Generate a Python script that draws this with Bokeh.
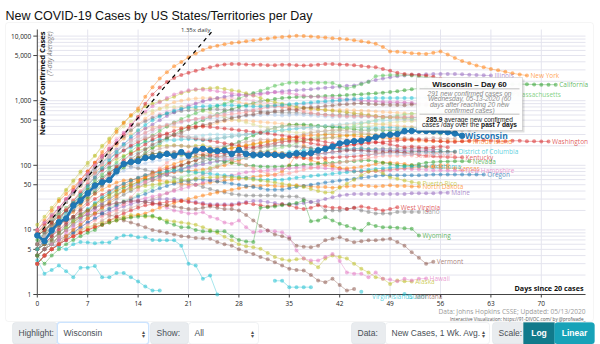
import math
from bokeh.plotting import figure
from bokeh.models import Range1d, Label, BoxAnnotation
from bokeh.embed import file_html
from bokeh.resources import INLINE
from bokeh.core.properties import value

nan = float("nan")

# ---------------- data (7-day average new cases, by days since 20 cases) ----------------
x_ticks = [0, 7, 14, 21, 28, 35, 42, 49, 56, 63, 70]
y_ticks = [1, 5, 10, 50, 100, 500, 1000, 5000, 10000]
y_minor = [2, 3, 4, 6, 7, 8, 9]

growth_rate = 1.35
growth_start = 8.1

wisconsin = [8.2, 6.7, 9.8, 13.1, 15, 23.8, 28.5, 37, 48.5, 54.5,
             59, 81, 105, 112, 116, 130, 133, 141, 150, 141,
             160, 141, 170, 180, 170, 166, 170, 150, 173, 150,
             145, 145, 147, 145, 141, 145, 153, 150, 155, 170,
             180, 195, 218, 228, 236, 240, 255, 272, 290, 298,
             305, 337, 340, 345, 340, 337, 337, 325, 310, 286]

new_york = [10, 14, 20, 28, 36, 46, 60, 80, 110, 160,
            230, 330, 450, 600, 760, 1150, 1620, 2200, 2760, 3400,
            3970, 4700, 5370, 6100, 6700, 7100, 7500, 7800, 8000, 8300,
            8600, 8900, 9200, 9500, 9700, 9900, 10100, 10000, 9850, 9650,
            9500, 9300, 9100, 8900, 8600, 8300, 8000, 7600, 6800, 5800,
            5700, 5600, 5450, 5350, 5300, 5500, 5800, 5200, 4600, 4100,
            3800, 3500, 3300, 3100, 2950, 2800, 2650, 2550, 2450]
new_jersey = [9, 12, 16, 22, 30, 42, 60, 80, 110, 140,
              180, 220, 300, 420, 560, 900, 1250, 1600, 1950, 2250,
              2500, 2700, 2900, 3100, 3300, 3500, 3650, 3700, 3700, 3650,
              3600, 3600, 3550, 3550, 3600, 3600, 3550, 3500, 3550, 3600,
              3700, 3700, 3650, 3600, 3550, 3450, 3350, 3300, 3100, 2900,
              2700, 2600, 2550, 2500, 2450, 2350, 2200, 2000, 1800, 1650,
              1500, 1440, 1400]
illinois = [10, 13, 17, 22, 29, 38, 50, 65, 85, 110,
            140, 175, 215, 260, 310, 370, 430, 500, 580, 660,
            740, 820, 900, 980, 1050, 1100, 1150, 1200, 1220, 1250,
            1280, 1300, 1330, 1360, 1400, 1430, 1450, 1480, 1500, 1550,
            1580, 1620, 1650, 1700, 1720, 1850, 1980, 2100, 2200, 2300,
            2380, 2450, 2500, 2530, 2560, 2580, 2600, 2600, 2580, 2560,
            2530, 2500, 2470, 2450]
california = [7, 9, 11, 14, 17, 21, 26, 32, 40, 50,
              62, 76, 92, 110, 130, 155, 185, 220, 260, 300,
              350, 400, 450, 500, 560, 620, 680, 740, 800, 860,
              920, 980, 1020, 1060, 1100, 1120, 1140, 1150, 1160, 1170,
              1180, 1190, 1200, 1220, 1240, 1260, 1280, 1300, 1330, 1360,
              1400, 1450, 1500, 1550, 1600, 1650, 1700, 1750, 1800, 1850,
              1900, 1950, 1950, 1900, 1850, 1800, 1800, 1800, 1800, 1780,
              1770, 1770, 1770]
massachusetts = [8, 10, 13, 17, 22, 28, 36, 46, 58, 72,
                 90, 110, 135, 165, 200, 240, 290, 340, 400, 460,
                 520, 580, 640, 700, 760, 830, 900, 980, 1080, 1200,
                 1320, 1430, 1550, 1700, 1800, 1900, 1900, 1900, 1900, 1900,
                 1900, 1880, 1700, 1550, 1650, 1800, 1950, 2400, 2450, 2500,
                 2500, 2500, 2450, 2400, 2300, 2200, 2100, 2000, 1900, 1800,
                 1700, 1600, 1500, 1420, 1350, 1300, 1250]
pennsylvania = [10, 13, 17, 22, 30, 40, 55, 75, 100, 135,
                180, 240, 320, 420, 540, 680, 820, 950, 1100, 1250,
                1350, 1450, 1500, 1480, 1450, 1400, 1350, 1300, 1250, 1200,
                1200, 1250, 1300, 1350, 1320, 1300, 1250, 1200, 1150, 1150,
                1100, 1100, 1080, 1050, 1050, 1000, 1000, 980, 950, 950,
                950, 940, 920, 900, 900, 890, 880, 870, 860, 850, 850]
michigan = [12, 16, 22, 30, 42, 58, 80, 110, 141, 200,
            260, 360, 460, 580, 700, 820, 900, 970, 1050, 1150,
            1300, 1400, 1480, 1530, 1560, 1580, 1520, 1450, 1400, 1300,
            1200, 1100, 1000, 950, 900, 850, 800, 780, 760, 740,
            720, 700, 680, 660, 640, 620, 600, 580, 560, 550,
            540, 530, 520, 510, 500, 500, 500, 510, 520, 520, 520, 520]
florida = [9, 12, 15, 20, 27, 36, 48, 65, 85, 110,
           150, 200, 260, 340, 430, 530, 640, 750, 850, 950,
           1000, 1050, 1080, 1100, 1100, 1080, 1050, 1000, 950, 900,
           880, 860, 850, 830, 800, 780, 760, 750, 740, 730,
           720, 720, 720, 720, 710, 700, 690, 680, 670, 660,
           650, 640, 630, 620, 610, 600, 600, 600, 610, 620, 630, 640, 650]
texas = [5, 7, 10, 14, 19, 26, 35, 48, 65, 90,
         120, 160, 210, 280, 350, 420, 500, 570, 640, 700,
         750, 780, 800, 820, 830, 840, 850, 850, 840, 830,
         820, 820, 830, 840, 860, 880, 900, 920, 940, 960,
         980, 1000, 1020, 1040, 1060, 1080, 1100, 1100, 1100, 1100,
         1100, 1100, 1100, 1100, 1120, 1140, 1150, 1150, 1150, 1150, 1150, 1150, 1150]
georgia = [6, 9, 13, 19, 27, 38, 52, 70, 95, 130,
           170, 220, 280, 350, 420, 480, 540, 590, 630, 660,
           690, 710, 720, 730, 740, 740, 730, 720, 710, 700,
           690, 680, 670, 660, 650, 650, 650, 640, 630, 620,
           610, 600, 600, 600, 590, 580, 580, 570, 560, 560,
           560, 550, 550, 550, 550, 560, 570, 580, 590, 600, 600, 600]
maryland = [6, 8, 11, 15, 20, 26, 34, 45, 60, 80,
            105, 135, 170, 210, 250, 290, 330, 370, 400, 430,
            460, 490, 520, 550, 580, 610, 640, 670, 700, 720,
            740, 760, 780, 800, 820, 840, 860, 880, 900, 920,
            940, 960, 980, 1000, 1000, 990, 980, 970, 960, 950,
            940, 930, 920, 910, 900, 890, 880, 870, 860, 850]
virginia = [4, 5, 7, 9, 12, 16, 21, 28, 37, 48,
            62, 80, 100, 125, 150, 175, 210, 235, 270, 300,
            320, 360, 380, 420, 440, 480, 500, 540, 560, 600,
            610, 650, 640, 690, 700, 730, 720, 770, 790, 800,
            830, 840, 870, 880, 900, 910, 890, 880, 870, 860,
            860, 850, 870, 860, 850, 860, 870, 860, 850, 860]
connecticut = [5, 8, 12, 18, 27, 40, 58, 80, 110, 150,
               200, 260, 320, 380, 440, 500, 560, 620, 680, 740,
               800, 860, 920, 980, 1030, 1080, 1100, 1100, 1080, 1050,
               1000, 960, 920, 880, 850, 820, 800, 780, 760, 740,
               720, 700, 680, 660, 640, 620, 600, 580, 560, 540,
               520, 510, 500, 490, 480, 470, 460, 450]
louisiana = [8, 12, 18, 28, 40, 55, 75, 100, 140, 190,
             250, 320, 400, 480, 560, 640, 700, 750, 780, 800,
             800, 780, 750, 700, 650, 600, 560, 520, 490, 460,
             430, 400, 380, 360, 340, 330, 320, 320, 320, 330,
             340, 350, 360, 370, 380, 390, 400, 420, 440, 460,
             470, 480, 480, 480, 470, 460, 460, 460, 460, 460, 460]
ohio = [6, 8, 11, 15, 21, 29, 40, 55, 75, 100,
        130, 160, 200, 240, 280, 320, 360, 390, 420, 450,
        480, 500, 520, 540, 560, 580, 600, 620, 640, 660,
        700, 750, 800, 820, 800, 760, 720, 680, 650, 620,
        600, 590, 580, 570, 570, 575, 570, 565, 560, 560,
        555, 560, 565, 560, 555, 560, 560, 555, 560, 560]
indiana = [5, 7, 10, 14, 20, 28, 38, 52, 70, 95,
           125, 160, 200, 240, 280, 320, 360, 400, 430, 460,
           480, 500, 510, 520, 530, 540, 550, 560, 570, 580,
           590, 600, 610, 600, 590, 600, 610, 600, 590, 580,
           570, 560, 565, 560, 555, 560, 565, 560, 555, 560,
           560, 555, 550, 540, 530, 520, 510, 500]
minnesota = [4, 5, 6, 8, 10, 12, 14, 16, 18, 20,
             22, 25, 28, 31, 35, 40, 45, 50, 55, 60,
             65, 70, 75, 80, 90, 100, 110, 120, 130, 140,
             150, 160, 170, 180, 190, 200, 220, 240, 260, 280,
             300, 320, 350, 380, 410, 440, 470, 500, 530, 560,
             590, 610, 630, 640, 650, 650, 660, 660, 660]
iowa = [4, 5, 6, 8, 10, 13, 16, 20, 25, 30,
        35, 40, 45, 50, 55, 60, 65, 70, 80, 90,
        100, 110, 120, 135, 150, 170, 190, 210, 230, 260,
        290, 320, 350, 380, 400, 420, 430, 430, 420, 410,
        400, 390, 380, 370, 360, 350, 350, 355, 350, 345,
        350, 350, 345, 340, 330, 320, 310]
nebraska = [3, 4, 5, 6, 7, 8, 9, 10, 12, 14,
            16, 18, 20, 22, 24, 27, 30, 33, 37, 42,
            48, 55, 63, 72, 82, 95, 110, 125, 140, 155,
            170, 185, 200, 220, 240, 260, 280, 300, 320, 330,
            340, 350, 350, 340, 330, 320, 310, 300, 290, 280,
            270, 260, 250]
tennessee = [8, 11, 15, 20, 27, 36, 48, 64, 85, 110,
             140, 170, 200, 230, 250, 270, 280, 290, 300, 300,
             290, 280, 270, 260, 260, 260, 270, 280, 290, 300,
             320, 340, 360, 380, 400, 400, 400, 380, 360, 340,
             330, 320, 320, 320, 330, 340, 350, 360, 360, 360,
             360, 350, 340, 330, 320, 320, 320, 330, 340, 350, 350]
north_carolina = [5, 7, 9, 12, 16, 21, 28, 37, 48, 62,
                  80, 100, 120, 140, 160, 180, 200, 220, 240, 250,
                  260, 270, 280, 290, 300, 300, 295, 300, 305, 300,
                  310, 320, 330, 340, 350, 360, 370, 380, 390, 400,
                  410, 420, 430, 440, 450, 460, 470, 480, 490, 500,
                  510, 520, 515, 520, 525, 520, 515, 520]
arizona = [6, 9, 13, 19, 27, 38, 52, 70, 90, 110,
           130, 150, 170, 190, 210, 230, 240, 250, 250, 245,
           250, 255, 250, 245, 250, 260, 270, 280, 290, 300,
           310, 320, 330, 340, 350, 360, 370, 380, 390, 400,
           400, 400, 390, 380, 380, 385, 380, 375, 380, 385,
           380, 375, 380, 385, 380, 380]
colorado = [6, 9, 13, 19, 27, 38, 52, 70, 95, 130,
            170, 210, 260, 300, 340, 370, 390, 400, 400, 390,
            380, 380, 390, 400, 420, 450, 480, 500, 500, 490,
            480, 470, 460, 450, 440, 430, 420, 410, 400, 400,
            400, 410, 420, 430, 440, 450, 450, 440, 430, 420,
            410, 400, 390, 380, 370, 360, 360, 365, 360, 355, 360, 360]
alabama = [8, 11, 15, 20, 27, 36, 48, 62, 78, 95,
           110, 125, 140, 155, 170, 180, 190, 200, 200, 205,
           200, 195, 200, 205, 190, 180, 180, 185, 190, 200,
           210, 220, 230, 240, 250, 255, 250, 245, 250, 255,
           260, 270, 280, 290, 300, 305, 300, 295, 300, 310,
           320, 330, 335, 330, 325, 330, 335, 330]
mississippi = [6, 8, 11, 15, 20, 26, 33, 42, 52, 64,
               78, 92, 106, 120, 135, 150, 165, 180, 190, 200,
               200, 195, 190, 185, 185, 190, 200, 210, 220, 230,
               240, 250, 250, 250, 240, 230, 230, 240, 250, 260,
               270, 270, 260, 250, 250, 260, 270, 280, 280, 270,
               260, 265, 260, 255, 260, 265, 260, 255, 260]
missouri = [5, 7, 10, 14, 20, 28, 38, 50, 65, 85,
            110, 140, 170, 200, 230, 260, 280, 300, 300, 290,
            280, 270, 260, 250, 240, 230, 220, 210, 200, 190,
            190, 200, 210, 220, 230, 240, 240, 230, 220, 210,
            200, 190, 190, 200, 210, 220, 230, 230, 220, 210,
            200, 190, 195, 190, 185, 190, 195, 190]
south_carolina = [5, 6, 8, 11, 15, 20, 26, 34, 44, 56,
                  70, 85, 100, 115, 130, 140, 150, 155, 160, 160,
                  160, 155, 150, 145, 140, 135, 135, 140, 145, 150,
                  155, 160, 160, 155, 150, 145, 140, 140, 145, 150,
                  155, 160, 165, 170, 170, 170, 165, 160, 160, 162,
                  160, 158, 160, 162, 160, 158, 160, 162, 160]
utah = [6, 8, 10, 13, 17, 22, 28, 35, 43, 52,
        62, 72, 82, 92, 100, 108, 115, 120, 122, 124,
        125, 126, 128, 130, 128, 126, 130, 132, 130, 128,
        135, 140, 145, 150, 148, 146, 150, 152, 150, 148,
        150, 155, 150, 145, 150, 155, 150, 148, 150, 152,
        150, 148, 150, 152, 155, 150, 148, 150]
delaware = [3, 4, 5, 6, 8, 10, 12, 15, 18, 22,
            26, 30, 35, 40, 46, 52, 58, 65, 72, 80,
            88, 96, 105, 115, 125, 135, 145, 155, 165, 175,
            185, 190, 195, 200, 205, 200, 195, 190, 185, 180,
            182, 185, 180, 175, 180, 185, 180, 178, 182, 180,
            178, 180, 182, 180, 178, 176, 175]
new_mexico = [4, 5, 6, 8, 10, 12, 15, 18, 22, 26,
              30, 35, 40, 45, 50, 56, 62, 68, 74, 80,
              86, 92, 98, 104, 110, 116, 122, 128, 134, 140,
              146, 150, 152, 150, 148, 150, 152, 150, 148, 150,
              155, 160, 165, 170, 172, 170, 168, 170, 172, 170,
              168, 170, 172, 170, 168, 170]
arkansas = [5, 7, 9, 12, 15, 19, 24, 30, 36, 42,
            48, 54, 58, 60, 62, 62, 60, 58, 56, 54,
            52, 50, 50, 52, 54, 56, 58, 60, 62, 64,
            66, 68, 70, 72, 80, 100, 150, 200, 180, 150,
            120, 100, 90, 85, 80, 80, 80, 82, 84, 86,
            88, 90, 92, 94, 96, 98, 100, 100]
washington = [8, 10, 13, 16, 20, 25, 30, 38, 48, 60,
              75, 95, 120, 150, 180, 210, 250, 280, 310, 340,
              370, 390, 400, 400, 390, 380, 370, 360, 350, 340,
              330, 320, 310, 300, 290, 280, 270, 260, 250, 240,
              230, 220, 215, 210, 210, 215, 220, 225, 230, 235,
              240, 245, 250, 250, 245, 240, 235, 230, 230, 235,
              240, 240, 245, 240, 235, 235, 240, 240, 235, 235,
              234, 234]
rhode_island = [3, 4, 5, 6, 8, 10, 12, 15, 18, 22,
                27, 33, 40, 48, 56, 65, 75, 85, 95, 105,
                115, 125, 135, 145, 155, 165, 175, 185, 195, 205,
                215, 225, 235, 245, 255, 265, 275, 285, 290, 295,
                300, 300, 295, 290, 285, 280, 275, 270, 265, 260,
                255, 250, 245, 240, 238, 236, 236, 236, 236, 236, 236]
district_of_columbia = [4, 5, 6, 8, 10, 12, 15, 18, 22, 26,
                        30, 35, 40, 46, 52, 58, 64, 70, 76, 82,
                        88, 94, 100, 105, 110, 115, 118, 120, 125, 130,
                        135, 140, 145, 150, 155, 160, 165, 170, 175, 180,
                        180, 182, 180, 178, 180, 178, 176, 174, 172, 170,
                        168, 166, 165, 164, 164, 163, 163, 163, 163]
south_dakota = [3, 4, 5, 6, 7, 8, 10, 12, 14, 16,
                18, 20, 25, 32, 42, 55, 70, 90, 110, 130,
                150, 160, 165, 160, 150, 140, 130, 120, 110, 100,
                90, 80, 75, 70, 72, 75, 80, 85, 90, 95,
                100, 105, 110, 115, 120, 125, 130, 135, 140, 140,
                140, 142, 142]
kentucky = [5, 6, 8, 10, 13, 16, 20, 25, 30, 35,
            40, 46, 52, 58, 64, 70, 76, 82, 88, 94,
            100, 110, 120, 130, 140, 150, 155, 160, 160, 155,
            150, 145, 140, 138, 136, 134, 132, 130, 130, 130,
            130, 132, 134, 136, 138, 140, 145, 150, 155, 160,
            160, 155, 150, 145, 140, 138, 136, 134, 133, 133]
nevada = [6, 8, 11, 15, 20, 26, 33, 42, 52, 64,
          78, 92, 105, 118, 130, 140, 150, 155, 155, 150,
          145, 140, 135, 130, 125, 120, 115, 110, 105, 100,
          98, 96, 95, 95, 96, 98, 100, 102, 104, 106,
          108, 110, 112, 114, 116, 118, 120, 115, 110, 105,
          100, 98, 100, 105, 110, 112, 114, 115, 116, 116, 116]
oklahoma = [5, 6, 7, 9, 11, 14, 17, 21, 26, 32,
            38, 45, 52, 58, 64, 70, 74, 78, 80, 82,
            82, 80, 78, 76, 74, 72, 70, 68, 66, 64,
            62, 60, 60, 60, 60, 62, 64, 66, 68, 70,
            72, 74, 76, 78, 80, 82, 85, 88, 90, 92,
            94, 95, 96, 97, 97]
kansas = [4, 5, 6, 8, 10, 13, 16, 20, 25, 30,
          36, 42, 48, 54, 60, 66, 70, 74, 76, 78,
          80, 82, 84, 86, 90, 95, 100, 110, 120, 130,
          140, 150, 155, 160, 155, 150, 140, 130, 120, 110,
          100, 95, 90, 90, 92, 95, 100, 105, 110, 110,
          108, 105, 100, 98, 95, 93, 92, 91, 90]
new_hampshire = [3, 4, 5, 7, 9, 11, 13, 15, 17, 19,
                 21, 23, 25, 27, 29, 31, 33, 35, 37, 40,
                 43, 46, 50, 54, 58, 62, 66, 70, 74, 78,
                 80, 82, 84, 86, 88, 90, 92, 95, 93, 92,
                 90, 88, 86, 84, 82, 80, 80, 81, 82, 84,
                 86, 88, 87, 86, 85, 84, 84, 83, 83, 83]
oregon = [3, 4, 5, 6, 7, 9, 11, 13, 15, 18,
          21, 24, 27, 30, 33, 36, 40, 44, 48, 52,
          56, 58, 60, 60, 58, 56, 54, 52, 50, 48,
          46, 44, 42, 42, 42, 44, 46, 48, 50, 52,
          54, 56, 58, 60, 62, 64, 66, 68, 70, 70,
          70, 70, 70, 70, 71, 72, 72, 72, 72, 72,
          72, 72, 72]
puerto_rico = [5, 6, 7, 9, 11, 14, 17, 20, 24, 28,
               32, 36, 40, 43, 46, 48, 50, 52, 54, 56,
               58, 60, 62, 64, 65, 66, 66, 65, 64, 62,
               60, 58, 56, 54, 52, 50, 48, 46, 43, 40,
               38, 38, 45, 52, 60, 70, 80, 83, 75, 65,
               62, 58, 55, 53]
north_dakota = [3, 4, 5, 6, 7, 8, 9, 10, 11, 12,
                13, 14, 15, 16, 17, 18, 20, 22, 24, 26,
                28, 30, 32, 34, 36, 38, 40, 42, 44, 46,
                48, 48, 49, 48, 47, 48, 49, 48, 47, 46,
                46, 45, 46, 47, 48, 49, 48, 47, 48, 49,
                48, 48, 47, 47]
maine = [4, 5, 6, 7, 8, 9, 11, 13, 15, 17,
         19, 21, 23, 25, 27, 28, 29, 30, 30, 30,
         29, 28, 27, 26, 25, 25, 25, 25, 26, 27,
         28, 28, 27, 26, 25, 25, 25, 26, 27, 28,
         30, 32, 34, 35, 36, 36, 36, 36, 36, 36,
         36, 36, 37, 37, 37, 37, 37.5, 37.5]
west_virginia = [3, 4, 5, 6, 7, 8, 9, 10, 11, 12,
                 14, 16, 18, 20, 22, 24, 25, 26, 27, 28,
                 28, 27, 26, 25, 24, 24, 24, 24, 25, 26,
                 25, 24, 23, 24, 25, 24, 22, 21, 22, 24,
                 23, 22, 22, 21, 22, 23, 22, 21, 20, 21, 22.4]
idaho = [6, 9, 14, 20, 28, 38, 50, 62, 75, 85,
         95, 100, 100, 95, 90, 85, 80, 75, 70, 65,
         60, 55, 50, 46, 43, 40, 38, 36, 35, 34,
         34, 34, 34, 34, 33, 33, 33, 30, 27, 25,
         20, 20, 20, 21, 22, 20, 19, 18, 18, 18,
         19, 19, 19, 19]
wyoming = [4, 3, 4, 5, 6, 7, 8, 9, 10, 12,
           13, 14, 15, 15.5, 16, 16.5, 16.5, 15, 13, 12,
           11, 11, 10, 9.5, 9.5, 9.5, 9.5, 8, 7, 6.6,
           6.5, 22, 22.5, 23, 24, 25, 26, 28.5, 13.6, 14,
           15.7, 14, 12.4, 11.5, 10.5, 9.8, 12.4, 11.5, 11, 11,
           10.8, 10.6, 10.4, 8.2]
vermont = [6, 7, 9, 12, 14, 16, 18, 20, 22, 24,
           25, 26, 27, 28, 28, 27, 26, 25, 24, 23,
           22, 21, 21, 22, 23, 22, 21, 21, 20, 17,
           14, 11.5, 9.8, 8.5, 8, 7.3, 5.7, 5.5, 5.4, 5.7,
           6.9, 7.3, 7.7, 7, 6.45, 6.7, 6.9, 6.9, 7.1, 7.3,
           6.5, 5.7, 4.5, 3.7, 3.0, 3.2]
hawaii = [5, 6, 8, 10, 12, 14, 16, 18, 20, 22,
          24, 26, 27, 28, 28, 27, 26, 24, 22, 20,
          19, 18, 18, 18.8, 16, 14.9, 13, 12.4, 14, 11,
          9.2, 9.5, 9.8, 9.5, 9.2, 7.7, 4.8, 3.6, 3.35, 3.35,
          3.8, 4.25, 3.3, 2.2, 2.1, 2.1, 1.85, 2.2, 1.75, 1.7,
          1.6, 1.75, 1.65, 1.75, 1.77]
alaska = [4, 5, 6, 7, 8, 9, 10, 11, 12, 13,
          14, 15, 16, 17, 17, 16, 16, 15, 14, 13.5,
          13, 12.6, 12, 11, 10, 9, 7.8, 6.9, 6, 5.6,
          5.4, 5.1, 4.4, 3.8, 3.5, 3.35, 3.5, 3.6, 3.1, 2.65,
          3.6, 4.0, 3.8, 3.6, 3.0, 2.5, 2.2, 1.85, 1.75, 1.46,
          1.65, 1.6, 1.59]
montana = [8, 10, 12, 13, 14, 15, 16, 17, 18, 18,
           17, 16, 14, 13, 12, 11, 10, 9.5, 9, 8.5,
           8, 7.8, 7.5, 7.4, 7.3, 6.5, 6, 5.7, 5, 4.6,
           4.25, 3.8, 3.5, 3.16, 2.8, 2.5, 2.4, 2.35, 2, 1.65,
           1.55, 1.75, 1.4, 1.15, 1.22, nan, nan, nan, nan, nan,
           nan, nan, nan]
virgin_islands = [3.4, 2.1, 2.4, 2.8, 2.3, 1.85, 2.6, 2.6, 2.75, 1.85,
                  1.85, 2.15, 2.15, 1.85, 1.59, 1.33, 1.15, 1.15, nan, nan,
                  nan, nan, nan, nan, nan, nan, nan, nan, nan, nan,
                  nan, nan, nan, 1.63, 1.63, 1.3, 1.3, 1.3, 1.3, nan,
                  nan, nan, nan, nan, nan, nan, nan]
guam = [5, 6, 6, 5.5, 5, 6, 6.5, 6.4, 6.2, 6.4,
        6.4, 7.5, 8.2, 8.2, 7.7, 7.7, 7, 6.9, 6.9, 6.9,
        5.7, 3, 2.8, 1.75, 1.97, 1.0, nan, nan, nan, nan,
        nan, nan, nan, nan, nan, nan, nan, nan, nan, nan,
        nan, nan, nan, nan, nan, 1.1, nan, nan, nan, nan,
        nan, 1.02]

# (name, values, color, show label, label value override)
series = [
    ("Alabama", alabama, "#bcbd22", False, None),
    ("Alaska", alaska, "#bcbd22", True, None),
    ("Arizona", arizona, "#17becf", False, None),
    ("Arkansas", arkansas, "#ff7f0e", False, None),
    ("California", california, "#2ca02c", True, None),
    ("Colorado", colorado, "#ffbb78", False, None),
    ("Connecticut", connecticut, "#f7b6d2", False, None),
    ("Delaware", delaware, "#7f7f7f", False, None),
    ("District of Columbia", district_of_columbia, "#17becf", True, None),
    ("Florida", florida, "#ffbb78", False, None),
    ("Georgia", georgia, "#7f7f7f", False, None),
    ("Guam", guam, "#17becf", True, 0.93),
    ("Hawaii", hawaii, "#e377c2", True, None),
    ("Idaho", idaho, "#7f7f7f", True, None),
    ("Illinois", illinois, "#9467bd", True, None),
    ("Indiana", indiana, "#aec7e8", False, None),
    ("Iowa", iowa, "#2ca02c", False, None),
    ("Kansas", kansas, "#ff7f0e", True, None),
    ("Kentucky", kentucky, "#d62728", True, None),
    ("Louisiana", louisiana, "#dbdb8d", False, None),
    ("Maine", maine, "#9467bd", True, None),
    ("Maryland", maryland, "#c5b0d5", False, None),
    ("Massachusetts", massachusetts, "#55c255", True, None),
    ("Michigan", michigan, "#bcbd22", False, None),
    ("Minnesota", minnesota, "#98df8a", False, None),
    ("Mississippi", mississippi, "#c49c94", False, None),
    ("Missouri", missouri, "#d62728", False, None),
    ("Montana", montana, "#8c564b", True, 0.93),
    ("Nebraska", nebraska, "#c49c94", False, None),
    ("Nevada", nevada, "#2ca02c", True, None),
    ("New Hampshire", new_hampshire, "#e377c2", True, None),
    ("New Jersey", new_jersey, "#d62728", True, None),
    ("New Mexico", new_mexico, "#e377c2", False, None),
    ("New York", new_york, "#ff7f0e", True, None),
    ("North Carolina", north_carolina, "#9edae5", False, None),
    ("North Dakota", north_dakota, "#ff7f0e", True, None),
    ("Ohio", ohio, "#ff9896", False, None),
    ("Oklahoma", oklahoma, "#17becf", True, None),
    ("Oregon", oregon, "#1f77b4", True, None),
    ("Pennsylvania", pennsylvania, "#e377c2", False, None),
    ("Puerto Rico", puerto_rico, "#bcbd22", True, None),
    ("Rhode Island", rhode_island, "#ff7f0e", True, None),
    ("South Carolina", south_carolina, "#8c564b", False, None),
    ("South Dakota", south_dakota, "#ff9896", True, None),
    ("Tennessee", tennessee, "#c7c7c7", False, None),
    ("Texas", texas, "#17becf", False, None),
    ("Utah", utah, "#aec7e8", False, None),
    ("Vermont", vermont, "#8c564b", True, None),
    ("Virgin Islands", virgin_islands, "#17becf", True, 0.93),
    ("Virginia", virginia, "#8c564b", False, None),
    ("Washington", washington, "#d62728", True, None),
    ("West Virginia", west_virginia, "#d62728", True, None),
    ("Wyoming", wyoming, "#2ca02c", True, None),
]

# ---------------- layout geometry (pixels) ----------------
W, H = 600, 344
DAY0_PX, PX_PER_DAY = 36.8, 7.2
ONE_PX, PX_PER_DECADE = 294.0, 64.6
PLOT_RIGHT_PX, PLOT_TOP_PX = 585.0, 29.0

x_lo = -DAY0_PX / PX_PER_DAY
x_hi = (W - DAY0_PX) / PX_PER_DAY
y_lo = 10 ** (-(H - ONE_PX) / PX_PER_DECADE)
y_hi = 10 ** (ONE_PX / PX_PER_DECADE)
plot_right = (PLOT_RIGHT_PX - DAY0_PX) / PX_PER_DAY
plot_top = 10 ** ((ONE_PX - PLOT_TOP_PX) / PX_PER_DECADE)
tick_day = 4.0 / PX_PER_DAY
tick_dec = 10 ** (-3.0 / PX_PER_DECADE)

FONT = "Open Sans"
SANS = "Liberation Sans"

p = figure(width=W, height=H, x_range=Range1d(x_lo, x_hi), y_range=Range1d(y_lo, y_hi),
           y_axis_type="log", x_axis_location=None, y_axis_location=None,
           output_backend="svg", toolbar_location=None,
           min_border_left=0, min_border_right=0, min_border_top=0, min_border_bottom=0)
p.outline_line_color = None
p.grid.visible = False
p.background_fill_color = "white"
p.border_fill_color = "white"

# grid
GRID = "#e4e4ee"
h_lines = [m * d for d in (1, 10, 100, 1000) for m in [1] + y_minor + [5]] + [10000]
h_lines = sorted(set(v for v in h_lines if v < plot_top))
p.segment(x0=[0] * len(h_lines), y0=h_lines, x1=[plot_right] * len(h_lines), y1=h_lines,
          line_color=GRID, line_width=1)
p.segment(x0=x_ticks[1:], y0=[1] * (len(x_ticks) - 1), x1=x_ticks[1:], y1=[plot_top] * (len(x_ticks) - 1),
          line_color=GRID, line_width=1)

# axes
AX = "#444444"
p.segment(x0=[0], y0=[1], x1=[0], y1=[plot_top], line_color=AX, line_width=1)
p.segment(x0=[0], y0=[1], x1=[plot_right], y1=[1], line_color=AX, line_width=1)
p.segment(x0=[-tick_day] * len(y_ticks), y0=y_ticks, x1=[0] * len(y_ticks), y1=y_ticks,
          line_color=AX, line_width=1)
p.segment(x0=x_ticks, y0=[1] * len(x_ticks), x1=x_ticks, y1=[tick_dec] * len(x_ticks),
          line_color=AX, line_width=1)
p.text(x=[0] * len(y_ticks), y=y_ticks, text=[f"{v:,}" for v in y_ticks], x_offset=-6,
       text_align="right", text_baseline="middle", text_font=value(FONT),
       text_font_size="6.5px", text_color="#222222")
p.text(x=x_ticks, y=[1] * len(x_ticks), text=[str(v) for v in x_ticks], y_offset=8.5,
       text_align="center", text_baseline="middle", text_font=value(FONT),
       text_font_size="6.5px", text_color="#222222")


def clabel(x, y, text, size, color="#222222", style="normal", align="left",
           baseline="middle", font=FONT, angle=0.0, alpha=1.0):
    p.add_layout(Label(x=x, y=y, x_units="canvas", y_units="canvas", text=text,
                       text_font=font, text_font_size=f"{size}px", text_font_style=style,
                       text_color=color, text_align=align, text_baseline=baseline,
                       angle=angle, text_alpha=alpha))


def cbox(left, right, top, bottom, fill, line=None, lw=1.0, fa=1.0, radius=0):
    p.add_layout(BoxAnnotation(left=left, right=right, top=top, bottom=bottom,
                               left_units="canvas", right_units="canvas",
                               top_units="canvas", bottom_units="canvas",
                               fill_color=fill, fill_alpha=fa, line_color=line,
                               line_width=lw, border_radius=radius))


# series
for name, vals, color, labeled, lab_y in series:
    xs = list(range(len(vals)))
    p.line(xs, vals, line_color=color, line_alpha=0.38, line_width=1)
    p.scatter(xs, vals, size=4, fill_color=color, fill_alpha=0.52, line_color=None)

growth_end = math.log(plot_top / growth_start) / math.log(growth_rate)
growth_days = [d for d in range(0, int(growth_end) + 1)] + [growth_end]
growth_vals = [growth_start * growth_rate ** d for d in growth_days]
p.line(growth_days, growth_vals, line_color="black", line_width=1.2, line_dash="4 4")

wx = list(range(len(wisconsin)))
p.line(wx, wisconsin, line_color="#1f77b4", line_width=2.6)
p.scatter(wx, wisconsin, size=5.5, fill_color="#1f77b4", line_color="#1f77b4")

# panel frame
cbox(5, 593, 22, 321, None, "#dddddd", 1, radius=3)

# end labels
for name, vals, color, labeled, lab_y in series:
    if not labeled:
        continue
    last = len(vals) - 1
    yv = lab_y if lab_y is not None else vals[last]
    p.add_layout(Label(x=last, y=yv, x_offset=3.5, text=name, text_font=FONT,
                       text_font_size="6.5px", text_color=color, text_alpha=0.75,
                       text_baseline="middle", text_align="left"))
p.add_layout(Label(x=len(wisconsin) - 1, y=wisconsin[-1], x_offset=3, text="Wisconsin",
                   text_font=FONT, text_font_size="8.5px", text_font_style="bold",
                   text_color="#1f77b4", text_baseline="middle"))

# texts in the chart
clabel(5, 15, "New COVID-19 Cases by US States/Territories per Day", 12.5, "#111111",
       baseline="alphabetic", font=SANS)
clabel(41.5, 31, "New Daily Confirmed Cases", 7.6, "#111111", "bold", align="right",
       angle=math.pi / 2)
clabel(49, 31, "(7-day Average)", 6.5, "#777777", "italic", align="right", angle=math.pi / 2)
clabel(210, 29.5, "1.35x daily", 6, "#333333", align="right")
clabel(583, 287, "Days since 20 cases", 7.2, "#111111", "bold", align="right")
clabel(585, 311, "Data: Johns Hopkins CSSE; Updated: 05/13/2020", 6.6, "#9a9a9a", align="right")
clabel(585, 318, "Interactive Visualization: https://91-DIVOC.com/ by @profwade_", 4.6,
       "#555555", align="right")

# tooltip
cbox(418, 524, 79, 132, "black", None, fa=0.12)
cbox(416, 522, 77, 130, "white", "#999999", 1, fa=0.96)
clabel(469, 83.5, "Wisconsin \u2013 Day 60", 8, "#111111", "bold", align="center", font=SANS)
cbox(419, 519, 88, 88.8, "#aaaaaa")
clabel(469, 92.6, "291 new confirmed cases on", 6.6, "#8a8a8a", "italic", align="center", font=SANS)
clabel(469, 98.3, "Wednesday, 05-13-2020 (60", 6.6, "#8a8a8a", "italic", align="center", font=SANS)
clabel(469, 104.0, "days after reaching 20 new", 6.6, "#8a8a8a", "italic", align="center", font=SANS)
clabel(469, 109.7, "confirmed cases)", 6.6, "#8a8a8a", "italic", align="center", font=SANS)
cbox(419, 519, 113.2, 114, "#aaaaaa")
clabel(425.5, 118.6, "285.9", 6.6, "#111111", "bold", font=SANS)
clabel(443.8, 118.6, "average new confirmed", 6.6, "#222222", font=SANS)
clabel(421.5, 124.4, "cases /day over the", 6.6, "#222222", font=SANS)
clabel(480.6, 124.4, "past 7 days", 6.6, "#111111", "bold", font=SANS)

# controls row
TOP, BOT, MID = 322, 343.5, 332.8
ADDON, ADDON_LINE, TXT = "#e9ecef", "#ced4da", "#495057"
cbox(12, 57, TOP, BOT, ADDON, ADDON_LINE, radius=3)
clabel(18, MID, "Highlight:", 8.5, TXT, font=SANS)
cbox(56, 149, TOP - 1, BOT + 1, "#cfe5ff", None, fa=0.8, radius=4)
cbox(57, 148, TOP, BOT, "white", "#80bdff", radius=3)
clabel(63, MID, "Wisconsin", 8.5, TXT, font=SANS)
cbox(150, 188, TOP, BOT, ADDON, ADDON_LINE, radius=3)
clabel(156, MID, "Show:", 8.5, TXT, font=SANS)
cbox(188, 258, TOP, BOT, "white", ADDON_LINE, radius=3)
clabel(194, MID, "All", 8.5, TXT, font=SANS)
cbox(351, 385, TOP, BOT, ADDON, ADDON_LINE, radius=3)
clabel(357, MID, "Data:", 8.5, TXT, font=SANS)
cbox(385, 489, TOP, BOT, "white", ADDON_LINE, radius=3)
clabel(391, MID, "New Cases, 1 Wk. Avg.", 8.5, TXT, font=SANS)
cbox(492, 523, TOP, BOT, ADDON, ADDON_LINE, radius=3)
clabel(498, MID, "Scale:", 8.5, TXT, font=SANS)
cbox(523, 554, TOP, BOT, "#117a8b", "#10707f")
clabel(538.5, MID, "Log", 8.5, "white", "bold", align="center", font=SANS)
cbox(554, 594, TOP, BOT, "#17a2b8", "#17a2b8", radius=3)
clabel(574, MID, "Linear", 8.5, "white", "bold", align="center", font=SANS)
for ax_ in (143, 252, 483):
    clabel(ax_, MID - 2.3, "\u25b4", 6, "#555555", align="center", font="DejaVu Sans")
    clabel(ax_, MID + 2.3, "\u25be", 6, "#555555", align="center", font="DejaVu Sans")

open("out.html", "w").write(file_html(p, INLINE))
